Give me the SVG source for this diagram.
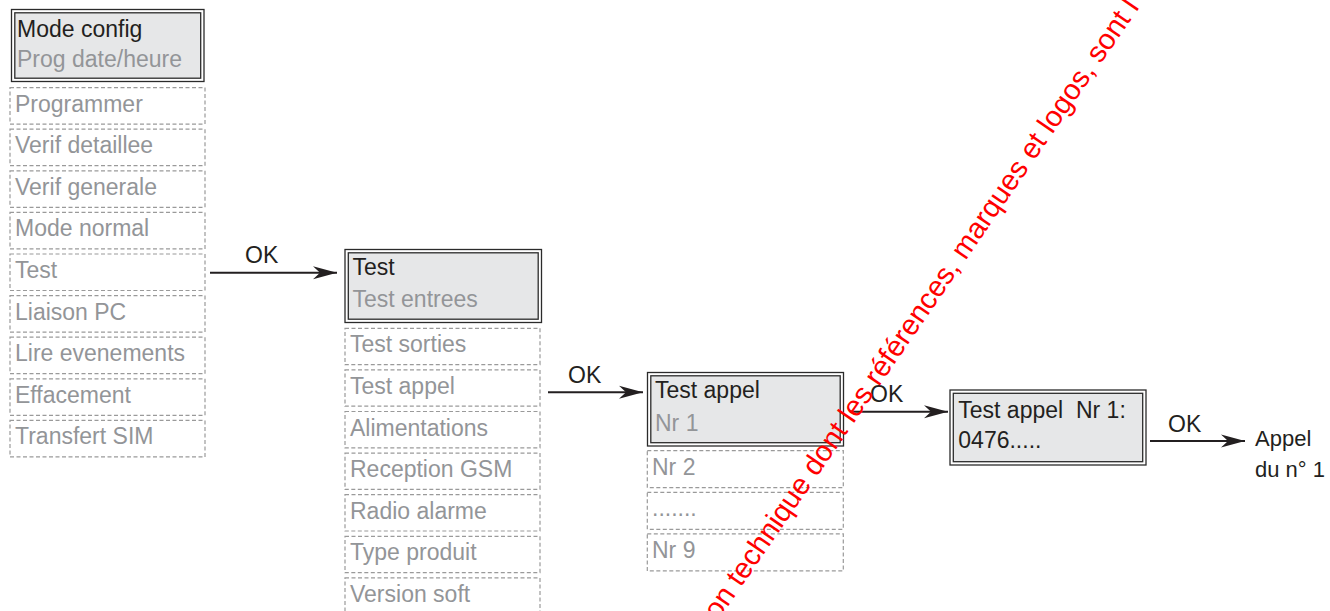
<svg xmlns="http://www.w3.org/2000/svg" width="1330" height="611" viewBox="0 0 1330 611">
<style>
.hdo{fill:#ffffff;stroke:#2b2b2b;stroke-width:1.3}
.hdi{fill:#e6e7e8;stroke:#2b2b2b;stroke-width:1.3}
.dash{fill:none;stroke:#9a9a9a;stroke-width:1.2;stroke-dasharray:4 2.5}
.m{font-family:"Liberation Sans",Arial,sans-serif;font-size:23px}
.blk{fill:#231f20}
.gry{fill:#939598}
.lbl{font-family:"Liberation Sans",Arial,sans-serif;font-size:23px;fill:#231f20}
.con{stroke:#231f20;stroke-width:2;fill:none;marker-end:url(#ah)}
.wm{font-family:"Liberation Sans",Arial,sans-serif;font-size:29px;fill:#ff0000}
</style>
<defs>
<marker id="ah" markerUnits="userSpaceOnUse" viewBox="-26 -8 28 16" refX="0" refY="0" markerWidth="28" markerHeight="16" orient="auto">
<path d="M0,0 L-24,-6.5 L-17,0 L-24,6.5 Z" fill="#231f20"/>
</marker>
</defs>

<g id="menu1">
<g id="n-mode-config">
<rect class="hdo" x="11.5" y="9.5" width="192.5" height="72"/>
<rect class="hdi" x="14.8" y="12.8" width="185.9" height="65.4"/>
<text class="m blk" x="17" y="36.7">Mode config</text>
<text class="m gry" x="17" y="66.7">Prog date/heure</text>
</g>
<g id="n-programmer"><rect class="dash" x="10" y="87.6" width="195" height="36.5"/><text class="m gry" x="15" y="111.6">Programmer</text></g>
<g id="n-verif-detaillee"><rect class="dash" x="10" y="129.2" width="195" height="36.5"/><text class="m gry" x="15" y="153.2">Verif detaillee</text></g>
<g id="n-verif-generale"><rect class="dash" x="10" y="170.8" width="195" height="36.5"/><text class="m gry" x="15" y="194.8">Verif generale</text></g>
<g id="n-mode-normal"><rect class="dash" x="10" y="212.4" width="195" height="36.5"/><text class="m gry" x="15" y="236.4">Mode normal</text></g>
<g id="n-test"><rect class="dash" x="10" y="254" width="195" height="36.5"/><text class="m gry" x="15" y="278">Test</text></g>
<g id="n-liaison-pc"><rect class="dash" x="10" y="295.6" width="195" height="36.5"/><text class="m gry" x="15" y="319.6">Liaison PC</text></g>
<g id="n-lire-evenements"><rect class="dash" x="10" y="337.2" width="195" height="36.5"/><text class="m gry" x="15" y="361.2">Lire evenements</text></g>
<g id="n-effacement"><rect class="dash" x="10" y="378.8" width="195" height="36.5"/><text class="m gry" x="15" y="402.8">Effacement</text></g>
<g id="n-transfert-sim"><rect class="dash" x="10" y="420.4" width="195" height="36.5"/><text class="m gry" x="15" y="444.4">Transfert SIM</text></g>
</g>

<g id="menu2">
<g id="n-test-header">
<rect class="hdo" x="345" y="249.5" width="196.5" height="73"/>
<rect class="hdi" x="348.3" y="252.8" width="189.9" height="66.4"/>
<text class="m blk" x="352.5" y="275">Test</text>
<text class="m gry" x="352.5" y="306.5">Test entrees</text>
</g>
<g id="n-test-sorties"><rect class="dash" x="345" y="328.3" width="195" height="36.3"/><text class="m gry" x="350" y="352.3">Test sorties</text></g>
<g id="n-test-appel"><rect class="dash" x="345" y="369.9" width="195" height="36.3"/><text class="m gry" x="350" y="393.9">Test appel</text></g>
<g id="n-alimentations"><rect class="dash" x="345" y="411.5" width="195" height="36.3"/><text class="m gry" x="350" y="435.5">Alimentations</text></g>
<g id="n-reception-gsm"><rect class="dash" x="345" y="453.1" width="195" height="36.3"/><text class="m gry" x="350" y="477.1">Reception GSM</text></g>
<g id="n-radio-alarme"><rect class="dash" x="345" y="494.7" width="195" height="36.3"/><text class="m gry" x="350" y="518.7">Radio alarme</text></g>
<g id="n-type-produit"><rect class="dash" x="345" y="536.3" width="195" height="36.3"/><text class="m gry" x="350" y="560.3">Type produit</text></g>
<g id="n-version-soft"><rect class="dash" x="345" y="577.9" width="195" height="36.3"/><text class="m gry" x="350" y="601.9">Version soft</text></g>
</g>

<g id="menu3">
<g id="n-test-appel-header">
<rect class="hdo" x="647.5" y="372.5" width="196" height="73.5"/>
<rect class="hdi" x="650.8" y="375.8" width="189.4" height="66.9"/>
<text class="m blk" x="655" y="398.3">Test appel</text>
<text class="m gry" x="655" y="430.7">Nr 1</text>
</g>
<g id="n-nr2"><rect class="dash" x="647.3" y="450.7" width="196" height="37"/><text class="m gry" x="652" y="474.7">Nr 2</text></g>
<g id="n-dots"><rect class="dash" x="647.3" y="492.3" width="196" height="37"/><text class="m gry" x="652" y="516.3">.......</text></g>
<g id="n-nr9"><rect class="dash" x="647.3" y="533.9" width="196" height="37"/><text class="m gry" x="652" y="557.9">Nr 9</text></g>
</g>

<g id="n-display">
<rect class="hdo" x="950" y="390" width="196" height="75"/>
<rect class="hdi" x="953.3" y="393.3" width="189.4" height="68.4"/>
<text class="m blk" x="958.3" y="417.7" xml:space="preserve">Test appel  Nr 1:</text>
<text class="m blk" x="958.3" y="448.3">0476.....</text>
</g>

<g id="n-appel">
<text class="lbl" x="1255" y="446" style="font-size:22px">Appel</text>
<text class="lbl" x="1255" y="476.7" style="font-size:22px">du n° 1</text>
</g>

<g id="connectors">
<line class="con" x1="210" y1="272.7" x2="337" y2="272.7"/>
<text class="lbl" x="245" y="263">OK</text>
<line class="con" x1="548" y1="392.3" x2="643" y2="392.3"/>
<text class="lbl" x="568" y="383">OK</text>
<line class="con" x1="850" y1="411.7" x2="948" y2="411.7"/>
<text class="lbl" x="870" y="401.7">OK</text>
<line class="con" x1="1150" y1="441" x2="1245" y2="441"/>
<text class="lbl" x="1168" y="431.7">OK</text>
</g>

<text class="wm" transform="translate(718,621) rotate(-55.5)">on technique dont les références, marques et logos, sont l</text>
</svg>
